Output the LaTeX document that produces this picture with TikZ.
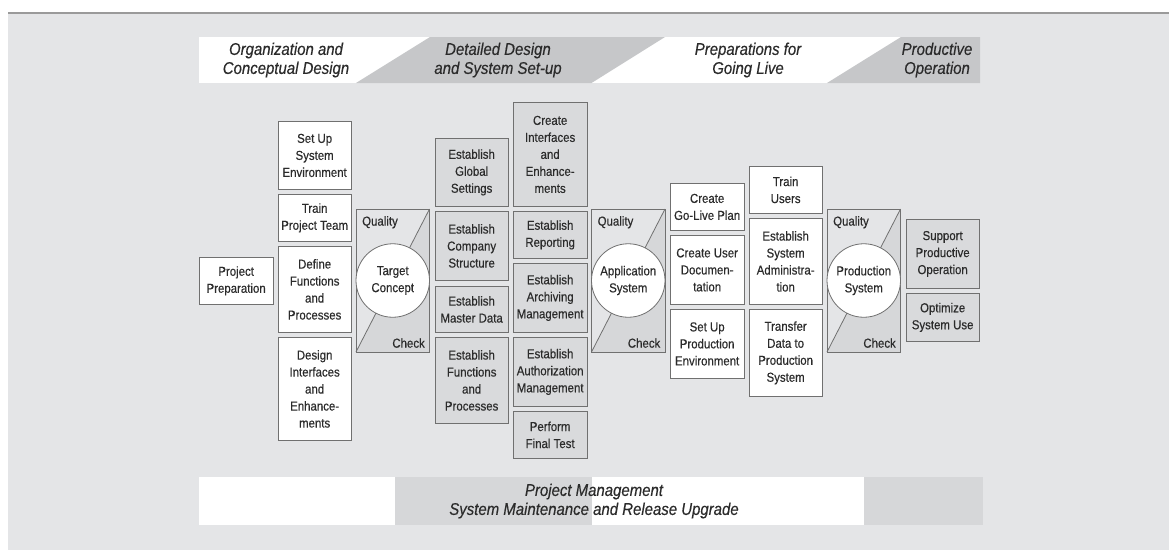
\documentclass[tikz,border=0pt]{standalone}
\usepackage{fontspec}
\setmainfont{Liberation Sans}[FakeStretch=0.88, FakeBold=0.35]
\usepackage{tikz}
\usepackage{xcolor}

\definecolor{bggray}{HTML}{E4E5E7}
\definecolor{topline}{HTML}{9A9A9A}
\definecolor{bannergray}{HTML}{C6C7C9}
\definecolor{lowgray}{HTML}{D6D7D9}
\definecolor{boxgray}{HTML}{D9DADC}
\definecolor{gategray}{HTML}{D6D7D9}
\definecolor{boxline}{HTML}{707070}
\definecolor{inkgray}{HTML}{2B2B2B}

\newcommand{\boxfont}{\fontsize{13}{17}\selectfont}
\newcommand{\bannerfont}{\fontsize{17}{19}\selectfont\itshape}

\tikzset{
  task/.style={draw=boxline, line width=0.8pt, fill=white, minimum width=73.5pt,
    inner sep=0pt, align=center, anchor=north west, font=\boxfont, text=inkgray},
  taskgray/.style={task, fill=boxgray},
  gate/.style={circle, draw=boxline, line width=0.8pt, fill=white, minimum size=73.5pt,
    inner sep=0pt, align=center, font=\boxfont, text=inkgray},
  gatelabel/.style={inner sep=0pt, font=\boxfont, text=inkgray},
  banner/.style={align=center, inner sep=0pt, font=\bannerfont, text=inkgray}
}

% quality gate: name, left x, text in the circle
\newcommand{\qgate}[3]{%
  \fill[gategray] (#2+73.5,209) -- (#2+73.5,352) -- (#2,352) -- cycle;
  \draw[boxline, line width=0.8pt] (#2,209) rectangle (#2+73.5,352);
  \draw[boxline, line width=0.8pt] (#2,352) -- (#2+73.5,209);
  \node[gate] (#1) at (#2+36.75,280.5) {#3};
  \node[gatelabel, anchor=north west] (#1q) at (#2+6,216) {Quality};
  \node[gatelabel, anchor=south east] (#1c) at (#2+69,348) {Check};
}

\begin{document}
\begin{tikzpicture}[x=1pt, y=-1pt]
        \useasboundingbox (0,0) rectangle (1169,550);
        \fill[bggray] (8,13) rectangle (1169,550);
        \draw[topline, line width=2pt] (8,13) -- (1169,13);

        % phases
        \fill[white] (199,37) rectangle (980,83);
        \fill[bannergray] (356,83) -- (430,37) -- (665,37) -- (591.5,83) -- cycle;
        \fill[bannergray] (827,83) -- (901,37) -- (980,37) -- (980,83) -- cycle;
        \node[banner] (orgdesign) at (286,60) {Organization and\\Conceptual Design};
        \node[banner] (detdesign) at (498,60) {Detailed Design\\and System Set-up};
        \node[banner] (golive) at (748,60) {Preparations for\\Going Live};
        \node[banner] (prodop) at (937,60) {Productive\\Operation};

        % organization and conceptual design
        \node[task, minimum height=47pt] (prep) at (199,257) {Project\\Preparation};
        \node[task, minimum height=68pt] (sysenv) at (277.5,121) {Set Up\\System\\Environment};
        \node[task, minimum height=47pt] (team) at (277.5,194) {Train\\Project Team};
        \node[task, minimum height=86pt] (funcs) at (277.5,246) {Define\\Functions\\and\\Processes};
        \node[task, minimum height=103pt] (designif) at (277.5,337) {Design\\Interfaces\\and\\Enhance-\\ments};
        \qgate{target}{356}{Target\\Concept}

        % detailed design and system set-up
        \node[taskgray, minimum height=68pt] (global) at (434.5,138) {Establish\\Global\\Settings};
        \node[taskgray, minimum height=69pt] (company) at (434.5,211) {Establish\\Company\\Structure};
        \node[taskgray, minimum height=46pt] (master) at (434.5,286) {Establish\\Master Data};
        \node[taskgray, minimum height=86pt] (estfuncs) at (434.5,337) {Establish\\Functions\\and\\Processes};
        \node[taskgray, minimum height=104pt] (createif) at (513,102) {Create\\Interfaces\\and\\Enhance-\\ments};
        \node[taskgray, minimum height=47pt] (report) at (513,211) {Establish\\Reporting};
        \node[taskgray, minimum height=69pt] (archive) at (513,263) {Establish\\Archiving\\Management};
        \node[taskgray, minimum height=69pt] (auth) at (513,337) {Establish\\Authorization\\Management};
        \node[taskgray, minimum height=47pt] (finaltest) at (513,411) {Perform\\Final Test};
        \qgate{appsys}{591.5}{Application\\System}

        % preparations for going live
        \node[task, minimum height=47pt] (plan) at (670,183) {Create\\Go-Live Plan};
        \node[task, minimum height=69pt] (userdoc) at (670,235) {Create User\\Documen-\\tation};
        \node[task, minimum height=69pt] (prodenv) at (670,309) {Set Up\\Production\\Environment};
        \node[task, minimum height=47pt] (users) at (748.5,166) {Train\\Users};
        \node[task, minimum height=86pt] (admin) at (748.5,218) {Establish\\System\\Administra-\\tion};
        \node[task, minimum height=87pt] (transfer) at (748.5,309) {Transfer\\Data to\\Production\\System};
        \qgate{prodsys}{827}{Production\\System}

        % productive operation
        \node[taskgray, minimum height=69pt] (support) at (905.5,219) {Support\\Productive\\Operation};
        \node[taskgray, minimum height=48pt] (optimize) at (905.5,293) {Optimize\\System Use};

        % running through all phases
        \fill[white] (199,477) rectangle (983,525);
        \fill[lowgray] (395,477) rectangle (592,525);
        \fill[lowgray] (864,477) rectangle (983,525);
        \node[banner] (projmgmt) at (594,501) {Project Management\\System Maintenance and Release Upgrade};
\end{tikzpicture}
\end{document}
